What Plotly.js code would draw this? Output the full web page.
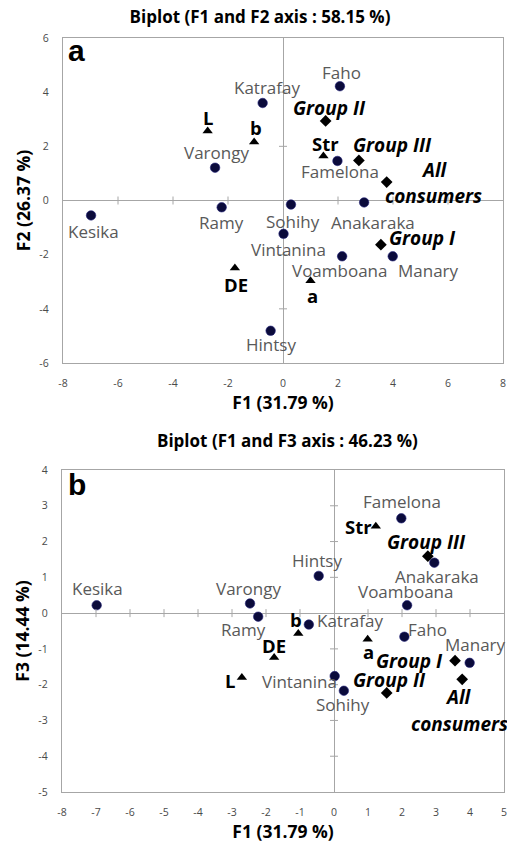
<!DOCTYPE html>
<html>
<head>
<meta charset="utf-8">
<script src="https://cdn.plot.ly/plotly-3.0.1.min.js"></script>
<style>html,body{margin:0;padding:0;background:#fff;}#chart{width:507px;height:848px;}</style>
</head>
<body>
<div id="chart"></div>
<script>
// ---------------- data ----------------
const products = ['Faho','Katrafay','Varongy','Famelona','Anakaraka','Sohihy','Ramy','Kesika','Vintanina','Voamboana','Manary','Hintsy'];
const prodF1 = [2.07,-0.74,-2.47,1.98,2.95,0.29,-2.23,-6.98,0.02,2.15,3.99,-0.45];
const prodF2 = [4.22,3.60,1.21,1.46,-0.07,-0.15,-0.25,-0.55,-1.23,-2.06,-2.06,-4.81];
const prodF3 = [-0.66,-0.32,0.27,2.65,1.41,-2.17,-0.10,0.22,-1.76,0.22,-1.39,1.04];

const attributes = ['L','b','Str','DE','a'];
const attrF1a = [-2.74,-1.05,1.47,-1.75,1.00];   // panel a
const attrF2 = [2.57,2.16,1.64,-2.49,-2.96];
const attrF1b = [-2.71,-1.05,1.23,-1.76,0.99];   // panel b
const attrF3 = [-1.80,-0.57,2.43,-1.24,-0.73];

const groups = ['Group I','Group II','Group III','All consumers'];
const grpF1 = [3.56,1.55,2.76,3.77];
const grpF2 = [-1.63,2.94,1.48,0.68];
const grpF3 = [-1.33,-2.23,1.59,-1.85];

const xTicksA = [-8,-6,-4,-2,0,2,4,6,8];
const yTicksA = [-6,-4,-2,0,2,4,6];
const xTicksB = [-8,-7,-6,-5,-4,-3,-2,-1,0,1,2,3,4,5];
const yTicksB = [-5,-4,-3,-2,-1,0,1,2,3,4];

// ---------------- label placement (screen px offsets, +dy = down) ----------------
const offA = {
  'Faho':[2,-14],'Katrafay':[4,-15],'Varongy':[1,-15],'Famelona':[3,11],'Anakaraka':[9,20],
  'Sohihy':[2,17],'Ramy':[0,15],'Kesika':[2,16],'Vintanina':[5,16],'Voamboana':[-2,14],
  'Manary':[36,14],'Hintsy':[0,14],
  'L':[0,-13],'b':[2,-14],'Str':[2,-13],'DE':[1,17],'a':[2,15],
  'Group I':[42,-7],'Group II':[4,-13],'Group III':[34,-15],'All consumers':[[48,-12],[47,14]]
};
const offB = {
  'Famelona':[1,-17],'Anakaraka':[3,14],'Hintsy':[-2,-15],'Kesika':[1,-17],'Varongy':[-2,-15],
  'Voamboana':[-1,-14],'Ramy':[-15,13],'Katrafay':[41,-4],'Faho':[23,-7],'Manary':[6,-18],
  'Vintanina':[-35,5],'Sohihy':[-1,14],
  'Str':[-17,0],'b':[-2,-14],'DE':[0,-12],'a':[1,12],'L':[-12,3],
  'Group I':[-46,0],'Group II':[3,-13],'Group III':[-1,-14],'All consumers':[[-4,18],[-3,45]]
};

const FONT = 'Open Sans, Noto Sans, sans-serif';
const labelFont = {family: FONT, size: 17, color: '#595959'};
const attrFont = {family: FONT, size: 18.5, color: '#000'};
const grpFont = {family: FONT, size: 19, color: '#000'};

const annotations = [];
function addLabels(names, xs, ys, offs, xr, yr, font, fmt) {
  names.forEach((n, i) => {
    let o = offs[n];
    if (!o) return;
    const parts = Array.isArray(o[0]) ? n.split(' ') : [n];
    const os = Array.isArray(o[0]) ? o : [o];
    parts.forEach((p, k) => {
      annotations.push({
        x: xs[i], y: ys[i], xref: xr, yref: yr, text: fmt(p), showarrow: false,
        xanchor: 'center', yanchor: 'middle', xshift: os[k][0], yshift: -os[k][1], font: font
      });
    });
  });
}
const plain = t => t;
const bold = t => '<b>' + t + '</b>';
const boldIt = t => '<b><i>' + t + '</i></b>';

addLabels(products, prodF1, prodF2, offA, 'x', 'y', labelFont, plain);
addLabels(attributes, attrF1a, attrF2, offA, 'x', 'y', attrFont, bold);
addLabels(groups, grpF1, grpF2, offA, 'x', 'y', grpFont, boldIt);
addLabels(products, prodF1, prodF3, offB, 'x2', 'y2', labelFont, plain);
addLabels(attributes, attrF1b, attrF3, offB, 'x2', 'y2', attrFont, bold);
addLabels(groups, grpF1, grpF3, offB, 'x2', 'y2', grpFont, boldIt);

// bottom title and panel letters
annotations.push({xref:'paper', yref:'paper', x:287/507, y:1-440/848, text:'<b>Biplot (F1 and F3 axis : 46.23 %)</b>',
  showarrow:false, xanchor:'center', yanchor:'middle', font:{family:FONT, size:17, color:'#000'}});
annotations.push({xref:'paper', yref:'paper', x:66/507, y:1-50/848, text:'<b>a</b>',
  showarrow:false, xanchor:'left', yanchor:'middle', font:{family:'Liberation Sans, Arial, sans-serif', size:30, color:'#000'}});
annotations.push({xref:'paper', yref:'paper', x:66/507, y:1-484/848, text:'<b>b</b>',
  showarrow:false, xanchor:'left', yanchor:'middle', font:{family:'Liberation Sans, Arial, sans-serif', size:30, color:'#000'}});

// ---------------- zero-line cross ticks ----------------
const shapes = [];
const tickCol = '#a6a6a6';
function crossTicks(vals, axis, xr, yr) {
  vals.forEach(v => {
    if (v === 0) return;
    if (axis === 'x') {
      shapes.push({type:'line', xref:xr, yref:yr, ysizemode:'pixel', yanchor:0, x0:v, x1:v, y0:-4, y1:4, line:{color:tickCol, width:1}});
    } else {
      shapes.push({type:'line', xref:xr, yref:yr, xsizemode:'pixel', xanchor:0, y0:v, y1:v, x0:-4, x1:4, line:{color:tickCol, width:1}});
    }
  });
}
crossTicks(xTicksA.slice(1, -1), 'x', 'x', 'y');
crossTicks(yTicksA.slice(1, -1), 'y', 'x', 'y');
crossTicks(xTicksB.slice(1, -1), 'x', 'x2', 'y2');
crossTicks(yTicksB.slice(1, -1), 'y', 'x2', 'y2');

// ---------------- traces ----------------
const dotMarker = {symbol:'circle', size:9.5, color:'#0b0b3b', line:{color:'#23237a', width:0.6}};
const triMarker = {symbol:'triangle-up', size:9, color:'#000'};
const diaMarker = {symbol:'diamond', size:9, color:'#000'};

const traces = [
  {x: prodF1, y: prodF2, text: products, type:'scatter', mode:'markers', marker: dotMarker, xaxis:'x', yaxis:'y', name:'Products'},
  {x: attrF1a, y: attrF2, text: attributes, type:'scatter', mode:'markers', marker: triMarker, xaxis:'x', yaxis:'y', name:'Attributes'},
  {x: grpF1, y: grpF2, text: groups, type:'scatter', mode:'markers', marker: diaMarker, xaxis:'x', yaxis:'y', name:'Groups'},
  {x: prodF1, y: prodF3, text: products, type:'scatter', mode:'markers', marker: dotMarker, xaxis:'x2', yaxis:'y2', name:'Products'},
  {x: attrF1b, y: attrF3, text: attributes, type:'scatter', mode:'markers', marker: triMarker, xaxis:'x2', yaxis:'y2', name:'Attributes'},
  {x: grpF1, y: grpF3, text: groups, type:'scatter', mode:'markers', marker: diaMarker, xaxis:'x2', yaxis:'y2', name:'Groups'}
];

const tickFont = {family: FONT, size: 10.5, color: '#4a4a4a'};
const axTitleFont = {family: FONT, size: 17.5, color: '#000'};
function axis(range, ticks, domain, anchor, title, isY) {
  return {
    range: range, domain: domain, anchor: anchor,
    tickmode:'array', tickvals: ticks, ticktext: ticks.map(String),
    showgrid:false, zeroline:true, zerolinecolor:'#a6a6a6', zerolinewidth:1,
    showline:true, mirror:true, linecolor:'#a6a6a6', linewidth:1.2,
    ticks:'outside', ticklen: isY ? 11 : 10, tickcolor:'rgba(0,0,0,0)',
    ticklabeloverflow:'allow',
    tickfont: tickFont, fixedrange:true, automargin:false,
    title: {text: '<b>' + title + '</b>', font: axTitleFont, standoff: isY ? 4 : 3}
  };
}

const layout = {
  width: 507, height: 848,
  margin: {l:0, r:0, t:0, b:0}, autosize:false,
  paper_bgcolor:'#fff', plot_bgcolor:'#fff', showlegend:false,
  title: {text:'<b>Biplot (F1 and F2 axis : 58.15 %)</b>', x:260/507, xanchor:'center', y:1-17/848, yanchor:'middle',
          font:{family:FONT, size:17, color:'#000'}},
  xaxis: axis([-8,8], xTicksA, [63/507, 503/507], 'y', 'F1 (31.79 %)', false),
  yaxis: axis([-6,6], yTicksA, [1-363/848, 1-38/848], 'x', 'F2 (26.37 %)', true),
  xaxis2: axis([-8,5], xTicksB, [62/507, 504/507], 'y2', 'F1 (31.79 %)', false),
  yaxis2: axis([-5,4], yTicksB, [1-792/848, 1-470/848], 'x2', 'F3 (14.44 %)', true),
  annotations: annotations, shapes: shapes, hovermode:false
};

Plotly.newPlot('chart', traces, layout, {displayModeBar:false, staticPlot:true});
</script>
</body>
</html>
